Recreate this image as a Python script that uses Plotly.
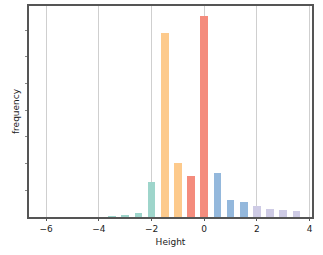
import plotly.graph_objects as go

heights = [-3.5, -3.0, -2.5, -2.0, -1.5, -1.0, -0.5, 0.0, 0.5, 1.0, 1.5, 2.0, 2.5, 3.0, 3.5]
frequency = [0.03, 0.05, 0.15, 1.31, 6.9, 2.02, 1.54, 7.52, 1.66, 0.62, 0.55, 0.4, 0.3, 0.25, 0.21]
group_colors = ["#9ed5cb", "#9ed5cb", "#9ed5cb", "#9ed5cb",
                "#fdca8c", "#fdca8c",
                "#f48c7d", "#f48c7d",
                "#94b8dc", "#94b8dc", "#94b8dc",
                "#cecbe5", "#cecbe5", "#cecbe5", "#cecbe5"]
x_ticks = [-6, -4, -2, 0, 2, 4]
x_tick_labels = ["\u22126", "\u22124", "\u22122", "0", "2", "4"]
y_ticks = [1, 2, 3, 4, 5, 6, 7]

fig = go.Figure(go.Bar(
    x=heights, y=frequency, width=0.29,
    marker=dict(color=group_colors, line=dict(width=0)),
))

fig.update_layout(
    width=323, height=255,
    margin=dict(l=29, r=11, t=6, b=38, autoexpand=False),
    paper_bgcolor="white", plot_bgcolor="white",
    showlegend=False,
    font=dict(family="DejaVu Sans", size=9, color="#222"),
    bargap=0,
)
fig.update_xaxes(
    range=[-6.65, 4.09], automargin=False,
    tickvals=x_ticks, ticktext=x_tick_labels,
    showgrid=True, gridcolor="#cfcfcf", gridwidth=1,
    showline=True, linecolor="#555", linewidth=1.5, mirror=True,
    ticks="outside", ticklen=2, tickcolor="#555",
    title=dict(text="Height", font=dict(size=9, color="#222"), standoff=6),
    zeroline=False,
)
fig.update_yaxes(
    range=[0, 7.91], automargin=False,
    tickvals=y_ticks, showticklabels=False,
    showgrid=False,
    showline=True, linecolor="#555", linewidth=1.5, mirror=True,
    ticks="outside", ticklen=2, tickcolor="#888",
    title=dict(text="frequency", font=dict(size=9, color="#222"), standoff=4),
    zeroline=False,
)

fig.write_html(
    "out.html",
    config={"displayModeBar": False},
    post_script="document.body.style.margin='0';document.body.style.overflow='hidden';",
)
